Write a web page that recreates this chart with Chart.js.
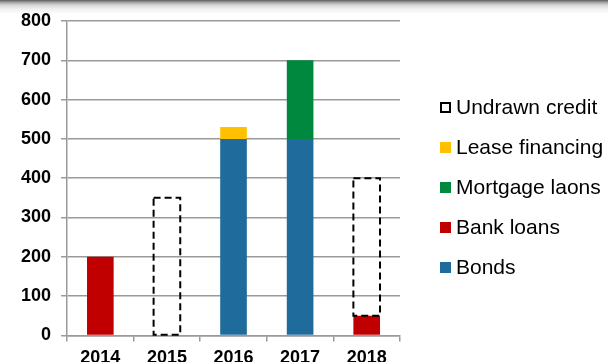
<!DOCTYPE html>
<html>
<head>
<meta charset="utf-8">
<script src="https://cdn.jsdelivr.net/npm/chart.js@4.4.1/dist/chart.umd.min.js"></script>
<style>
  html, body { margin: 0; padding: 0; }
  body {
    width: 608px; height: 362px; overflow: hidden;
    background: linear-gradient(to bottom, #5a5a5a 0px, #9a9a9a 2px, #d4d4d4 5px, #f0f0f0 9px, #ffffff 14px);
    font-family: 'Liberation Sans', Arial, sans-serif;
  }
  #wrap { position: relative; width: 608px; height: 375px; }
  #legend { position: absolute; left: 440px; top: 87px; }
  .item { height: 40px; display: flex; align-items: center; font-size: 21px; color: #000; }
  .swatch { width: 11px; height: 11px; margin-right: 5px; box-sizing: border-box; }
</style>
</head>
<body>
<div id="wrap">
  <canvas id="financing"></canvas>
  <div id="legend"></div>
</div>
<script>
// Funding mix per year
const years = ['2014', '2015', '2016', '2017', '2018'];
const bonds = [0, 0, 500, 500, 0];
const bankLoans = [200, 0, 0, 0, 50];
const mortgageLoans = [0, 0, 0, 200, 0];
const leaseFinancing = [0, 0, 30, 0, 0];
const undrawnCredit = [0, 350, 0, 0, 350];
const yTicks = [0, 100, 200, 300, 400, 500, 600, 700, 800];

const FONT = "'Liberation Sans', Arial, sans-serif";
const GRID = '#9a9a9a';

// Undrawn credit has no fill, only a dashed outline
const dashedBars = {
    id: 'dashedBars',
    afterDatasetsDraw(chart) {
        const ctx = chart.ctx;
        chart.data.datasets.forEach((ds, i) => {
            if (!ds.dashed) return;
            const meta = chart.getDatasetMeta(i);
            meta.data.forEach((bar, j) => {
                if (!ds.data[j]) return;
                const left = bar.x - bar.width / 2;
                ctx.save();
                ctx.strokeStyle = '#000';
                ctx.lineWidth = 2;
                ctx.setLineDash([7, 4]);
                ctx.strokeRect(left, bar.y, bar.width, bar.base - bar.y);
                ctx.restore();
            });
        });
    }
};

const ctx = document.getElementById('financing').getContext('2d');
ctx.chart = new Chart(ctx, {
    type: 'bar',
    data: {
        labels: years,
        datasets: [
            { label: 'Bonds', data: bonds, backgroundColor: '#1f6b9c' },
            { label: 'Bank loans', data: bankLoans, backgroundColor: '#c00000' },
            { label: 'Mortgage laons', data: mortgageLoans, backgroundColor: '#00893e' },
            { label: 'Lease financing', data: leaseFinancing, backgroundColor: '#ffc000' },
            { label: 'Undrawn credit', data: undrawnCredit, backgroundColor: 'rgba(0,0,0,0)', dashed: true }
        ]
    },
    options: {
        responsive: true,
        maintainAspectRatio: false,
        animation: false,
        categoryPercentage: 1,
        barPercentage: 0.4,
        layout: { padding: { left: 11, top: 21, right: 208, bottom: 0 } },
        plugins: {
            tooltip: { enabled: false },
            legend: { display: false }
        },
        scales: {
            x: {
                stacked: true,
                offset: true,
                grid: { offset: true, drawOnChartArea: false, color: GRID, lineWidth: 1.5, tickLength: 6 },
                border: { color: GRID, width: 1.5 },
                ticks: { color: '#000', padding: 6, font: { family: FONT, size: 18, weight: 'bold' } }
            },
            y: {
                stacked: true,
                min: 0,
                max: 800,
                afterBuildTicks(axis) { axis.ticks = yTicks.map(v => ({ value: v })); },
                grid: { color: GRID, lineWidth: 1.5, tickLength: 6 },
                border: { color: GRID, width: 1.5 },
                ticks: { color: '#000', padding: 10, font: { family: FONT, size: 18, weight: 'bold' } }
            }
        }
    },
    plugins: [dashedBars]
});

// Legend, top to bottom in reverse stacking order
const legend = document.getElementById('legend');
ctx.chart.data.datasets.slice().reverse().forEach(ds => {
    const item = document.createElement('div');
    item.className = 'item';
    const swatch = document.createElement('span');
    swatch.className = 'swatch';
    if (ds.dashed) {
        swatch.style.border = '2px dashed #000';
    } else {
        swatch.style.background = ds.backgroundColor;
    }
    item.appendChild(swatch);
    item.appendChild(document.createTextNode(ds.label));
    legend.appendChild(item);
});
</script>
</body>
</html>
